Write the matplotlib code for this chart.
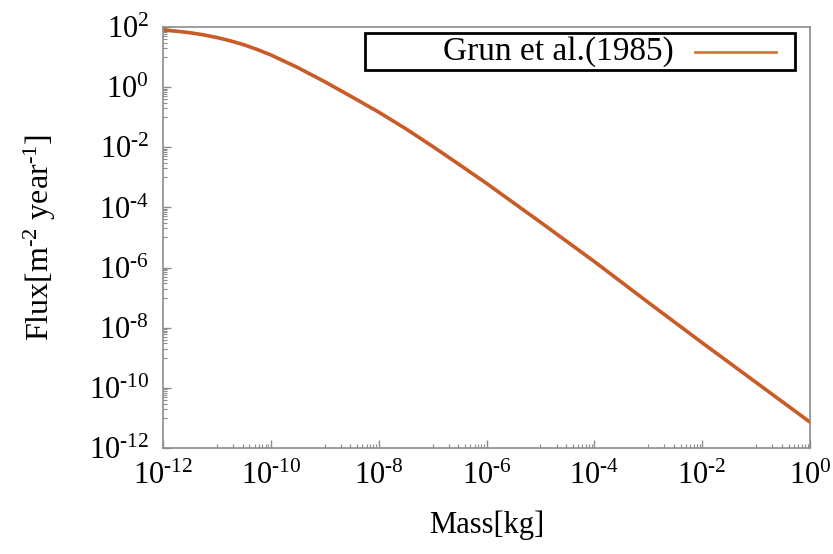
import numpy as np
import matplotlib
matplotlib.use("Agg")
import matplotlib.pyplot as plt
from matplotlib.ticker import FixedLocator, FuncFormatter, NullFormatter
from matplotlib.lines import Line2D
from matplotlib.patches import Rectangle

plt.rcParams['font.family'] = ['Liberation Serif', 'DejaVu Serif']
plt.rcParams['mathtext.fontset'] = 'custom'
plt.rcParams['mathtext.rm'] = 'Liberation Serif'
plt.rcParams['mathtext.it'] = 'Liberation Serif:italic'

# Data: log10 of mass [kg] and log10 of flux
mass_exp = [-12, -11.75, -11.5, -11.25, -11, -10.75, -10.5, -10.25, -10, -9.5, -9,
            -8.5, -8, -7.5, -7, -6.5, -6, -5, -4, -3, -2, -1, 0]
flux_exp = [1.90, 1.86, 1.81, 1.74, 1.65, 1.54, 1.41, 1.25, 1.07, 0.65, 0.18,
            -0.32, -0.83, -1.38, -1.97, -2.58, -3.20, -4.49, -5.80, -7.16,
            -8.50, -9.82, -11.14]
series_label = "Grun et al.(1985)"

major_exps = [-12, -10, -8, -6, -4, -2, 0]
y_major_exps = [2, 0, -2, -4, -6, -8, -10, -12]

mass = [10.0 ** e for e in mass_exp]
flux = [10.0 ** e for e in flux_exp]

line_color = '#C95B27'
frame_color = '#8c8c8c'

fig = plt.figure(figsize=(8.33, 5.54), dpi=100)
ax = fig.add_axes([163/833, 1 - 448/554, (810-163)/833, (448-27)/554])

ax.plot(mass, flux, color=line_color, lw=2.6, solid_capstyle='round',
        solid_joinstyle='round')

ax.set_xscale('log')
ax.set_yscale('log')
ax.set_xlim(1e-12, 1e0)
ax.set_ylim(1e-12, 1e2)

def fmt(v, pos):
    e = int(round(np.log10(v)))
    if e < 0:
        return r'10$^{\text{-}%d}$' % (-e)
    return r'10$^{%d}$' % e

ax.xaxis.set_major_locator(FixedLocator([10.0**e for e in major_exps]))
ax.yaxis.set_major_locator(FixedLocator([10.0**e for e in y_major_exps]))
xminor = [k * 10.0**e for e in range(-11, 0, 2) for k in range(1, 10)]
yminor = [k * 10.0**e for e in range(-11, 2, 2) for k in range(1, 10)]
ax.xaxis.set_minor_locator(FixedLocator(xminor))
ax.yaxis.set_minor_locator(FixedLocator(yminor))
ax.xaxis.set_major_formatter(FuncFormatter(fmt))
ax.yaxis.set_major_formatter(FuncFormatter(fmt))
ax.xaxis.set_minor_formatter(NullFormatter())
ax.yaxis.set_minor_formatter(NullFormatter())

ax.tick_params(which='both', direction='in', color=frame_color, top=False, right=False)
ax.tick_params(which='major', length=6, width=1, labelsize=22, pad=10)
ax.tick_params(which='minor', length=3, width=0.8)
for s in ax.spines.values():
    s.set_color(frame_color)
    s.set_linewidth(1.2)

ax.set_xlabel('Mass[kg]', fontsize=22, labelpad=14)
ax.set_ylabel(r'Flux[m$^{\text{-}2}$ year$^{\text{-}1}$]', fontsize=23, labelpad=22)

# gnuplot-style legend box
bx0, bx1 = (365-163)/647, (795-163)/647
by0, by1 = (448-70)/421, (448-33)/421
ax.add_patch(Rectangle((bx0, by0), bx1-bx0, by1-by0, transform=ax.transAxes,
                       fill=False, edgecolor='black', lw=2, zorder=5, clip_on=False))
ax.text((674-163)/647, (by0+by1)/2, series_label, transform=ax.transAxes,
        ha='right', va='center', fontsize=24, zorder=6)
ax.add_line(Line2D([(695-163)/647, (776-163)/647], [(by0+by1)/2]*2,
                   transform=ax.transAxes, color='#D9773F', lw=2, zorder=6))

fig.savefig('out.png', dpi=100)
